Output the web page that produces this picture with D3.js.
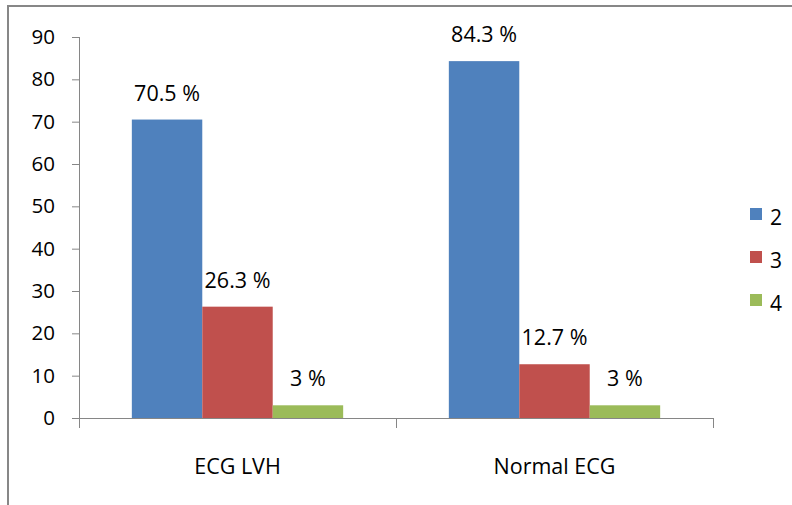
<!DOCTYPE html>
<html>
<head>
<meta charset="utf-8">
<script src="https://cdn.jsdelivr.net/npm/d3@7"></script>
<style>
  html, body { margin: 0; padding: 0; background: #fff; }
  svg { display: block; }
  text { font-family: "Open Sans", "Noto Sans", sans-serif; fill: #000; }
</style>
</head>
<body>
<svg id="chart" width="792" height="505"></svg>
<script>
// Categories along the x axis
const categories = ["ECG LVH", "Normal ECG"];
// Series names (shown in the legend)
const seriesNames = ["2", "3", "4"];
// Values per series, in category order
const values2 = [70.5, 84.3];
const values3 = [26.3, 12.7];
const values4 = [3, 3];
const seriesColors = ["#4F81BD", "#C0504D", "#9BBB59"];
const yTicks = [0, 10, 20, 30, 40, 50, 60, 70, 80, 90];

const seriesValues = [values2, values3, values4];
const rows = [];
categories.forEach((c, ci) => {
  seriesNames.forEach((s, si) => {
    rows.push({ category: c, series: s, value: seriesValues[si][ci], color: seriesColors[si] });
  });
});

const svg = d3.select("#chart");

// outer chart frame
svg.append("rect")
  .attr("x", 8).attr("y", 6)
  .attr("width", 800).attr("height", 520)
  .attr("fill", "none")
  .attr("stroke", "#878787")
  .attr("stroke-width", 2);

const plot = { left: 79, right: 713, top: 37, bottom: 418 };

const y = d3.scaleLinear().domain([0, 90]).range([plot.bottom, plot.top]);
const x = d3.scaleBand().domain(categories).range([plot.left, plot.right]).paddingInner(0).paddingOuter(0);
const xs = d3.scaleBand().domain(seriesNames).range([0, x.bandwidth()]).paddingInner(0).paddingOuter(0.75);

// y axis
const yAxis = svg.append("g")
  .attr("transform", `translate(${plot.left},0)`)
  .call(d3.axisLeft(y).tickValues(yTicks).tickSize(7).tickPadding(17).tickSizeOuter(0));
yAxis.selectAll("path, line").attr("stroke", "#868686");
yAxis.selectAll("text").style("font-size", "20.5px").attr("fill", "#000");
yAxis.select(".domain").attr("d", `M0.5,${plot.top}V${plot.bottom}`);

// x axis: tick marks at band boundaries
const xg = svg.append("g");
xg.append("line")
  .attr("x1", plot.left).attr("x2", plot.right)
  .attr("y1", plot.bottom + 0.5).attr("y2", plot.bottom + 0.5)
  .attr("stroke", "#868686");
const bounds = categories.map(c => x(c)).concat([x(categories[categories.length - 1]) + x.bandwidth()]);
xg.selectAll("line.tick")
  .data(bounds)
  .join("line")
  .attr("class", "tick")
  .attr("x1", d => Math.round(d) + 0.5).attr("x2", d => Math.round(d) + 0.5)
  .attr("y1", plot.bottom).attr("y2", plot.bottom + 10)
  .attr("stroke", "#868686");
xg.selectAll("text.cat")
  .data(categories)
  .join("text")
  .attr("class", "cat")
  .attr("x", d => x(d) + x.bandwidth() / 2)
  .attr("y", 474)
  .attr("text-anchor", "middle")
  .style("font-size", "21.5px")
  .text(d => d);

// bars
svg.append("g").selectAll("rect")
  .data(rows)
  .join("rect")
  .attr("x", d => x(d.category) + xs(d.series))
  .attr("width", xs.bandwidth())
  .attr("y", d => y(d.value))
  .attr("height", d => y(0) - y(d.value))
  .attr("fill", d => d.color);

// value labels above bars
svg.append("g").selectAll("text")
  .data(rows)
  .join("text")
  .attr("x", d => x(d.category) + xs(d.series) + xs.bandwidth() / 2)
  .attr("y", d => y(d.value) - 19)
  .attr("text-anchor", "middle")
  .style("font-size", "21.5px")
  .text(d => `${d.value} %`);

// legend
const legend = svg.append("g").selectAll("g")
  .data(seriesNames)
  .join("g")
  .attr("transform", (d, i) => `translate(750,${208 + i * 43})`);
legend.append("rect")
  .attr("width", 12).attr("height", 12)
  .attr("fill", (d, i) => seriesColors[i]);
legend.append("text")
  .attr("x", 20).attr("y", 17)
  .style("font-size", "21px")
  .text(d => d);
</script>
</body>
</html>
